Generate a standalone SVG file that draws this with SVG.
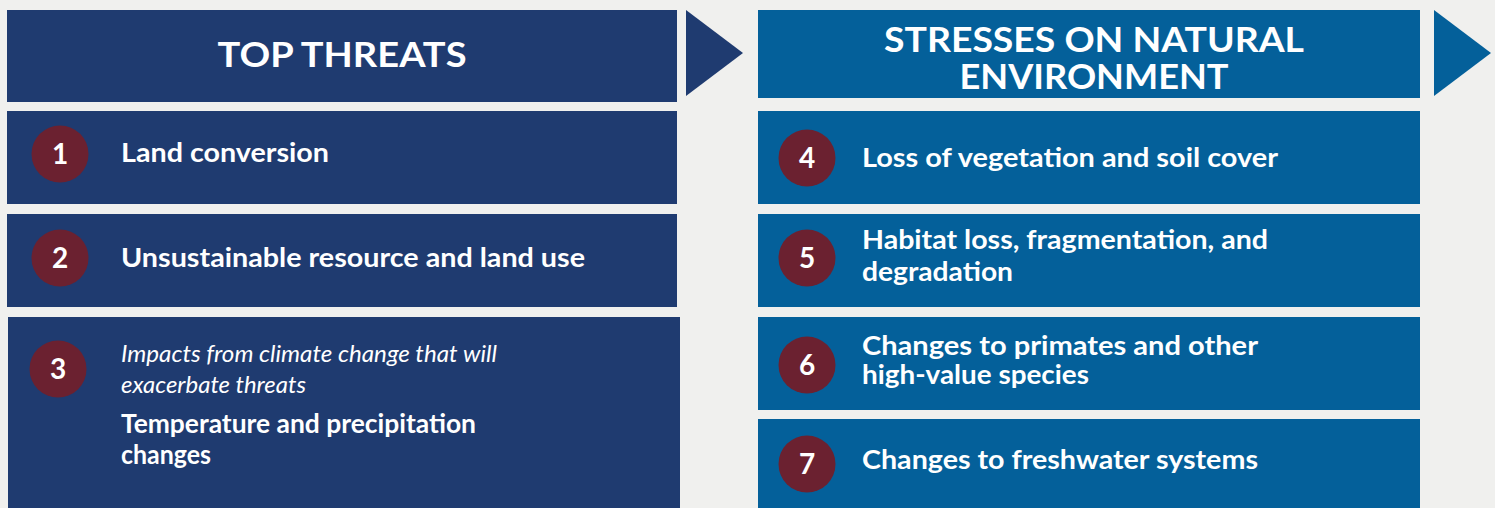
<svg xmlns="http://www.w3.org/2000/svg" width="1495" height="508" viewBox="0 0 1495 508">
<style>
.bg{fill:#f0f0ee}
.navy{fill:#1f3b70}
.blue{fill:#04609a}
.badge{fill:#6b2130}
text{font-family:Lato,"Open Sans","Liberation Sans",sans-serif;fill:#ffffff}
.hdr{font-size:34px;font-weight:700;text-anchor:middle}
.lbl{font-size:26px;font-weight:700}
.it{font-size:23px;font-style:italic;font-weight:400}
.num{font-size:28px;font-weight:700;text-anchor:middle}
</style>
<rect class="bg" x="0" y="0" width="1495" height="508"/>
<g id="connectors">
<polygon class="navy" points="686,10 743,53 686,96"/>
<polygon class="blue" points="1434,10 1491,53 1434,96"/>
</g>
<g id="hdr-threats">
<rect class="navy" x="7" y="10" width="670" height="92"/>
<text class="hdr" x="342" y="67" textLength="249" lengthAdjust="spacingAndGlyphs">TOP THREATS</text>
</g>
<g id="hdr-stresses">
<rect class="blue" x="758" y="10" width="662" height="88"/>
<text class="hdr" x="1094" y="52" textLength="420" lengthAdjust="spacingAndGlyphs">STRESSES ON NATURAL</text>
<text class="hdr" x="1094" y="89" textLength="269" lengthAdjust="spacingAndGlyphs">ENVIRONMENT</text>
</g>
<g id="threat-1">
<rect class="navy" x="7" y="111" width="670" height="93"/>
<circle class="badge" cx="60" cy="154" r="28.5"/>
<text class="num" x="60" y="164">1</text>
<text class="lbl" x="121" y="162" textLength="208" lengthAdjust="spacingAndGlyphs">Land conversion</text>
</g>
<g id="threat-2">
<rect class="navy" x="7" y="214" width="670" height="93"/>
<circle class="badge" cx="60" cy="258" r="28.5"/>
<text class="num" x="60" y="268">2</text>
<text class="lbl" x="121" y="267" textLength="464" lengthAdjust="spacingAndGlyphs">Unsustainable resource and land use</text>
</g>
<g id="threat-3">
<rect class="navy" x="8" y="317" width="672" height="191"/>
<circle class="badge" cx="58" cy="369" r="28.5"/>
<text class="num" x="58" y="379">3</text>
<text class="it" x="121" y="362" textLength="376" lengthAdjust="spacingAndGlyphs">Impacts from climate change that will</text>
<text class="it" x="121" y="393" textLength="185" lengthAdjust="spacingAndGlyphs">exacerbate threats</text>
<text class="lbl" x="121" y="433" textLength="355" lengthAdjust="spacingAndGlyphs">Temperature and precipitation</text>
<text class="lbl" x="121" y="464" textLength="90" lengthAdjust="spacingAndGlyphs">changes</text>
</g>
<g id="stress-4">
<rect class="blue" x="758" y="111" width="662" height="93"/>
<circle class="badge" cx="807" cy="158" r="28.5"/>
<text class="num" x="807" y="168">4</text>
<text class="lbl" x="862" y="167" textLength="416" lengthAdjust="spacingAndGlyphs">Loss of vegetation and soil cover</text>
</g>
<g id="stress-5">
<rect class="blue" x="758" y="214" width="662" height="93"/>
<circle class="badge" cx="807" cy="258" r="28.5"/>
<text class="num" x="807" y="268">5</text>
<text class="lbl" x="862" y="249" textLength="406" lengthAdjust="spacingAndGlyphs">Habitat loss, fragmentation, and</text>
<text class="lbl" x="862" y="281" textLength="151" lengthAdjust="spacingAndGlyphs">degradation</text>
</g>
<g id="stress-6">
<rect class="blue" x="758" y="317" width="662" height="93"/>
<circle class="badge" cx="807" cy="365" r="28.5"/>
<text class="num" x="807" y="375">6</text>
<text class="lbl" x="862" y="355" textLength="396" lengthAdjust="spacingAndGlyphs">Changes to primates and other</text>
<text class="lbl" x="862" y="384" textLength="227" lengthAdjust="spacingAndGlyphs">high-value species</text>
</g>
<g id="stress-7">
<rect class="blue" x="758" y="419" width="662" height="89"/>
<circle class="badge" cx="807" cy="464" r="28.5"/>
<text class="num" x="807" y="474">7</text>
<text class="lbl" x="862" y="469" textLength="396" lengthAdjust="spacingAndGlyphs">Changes to freshwater systems</text>
</g>
</svg>
